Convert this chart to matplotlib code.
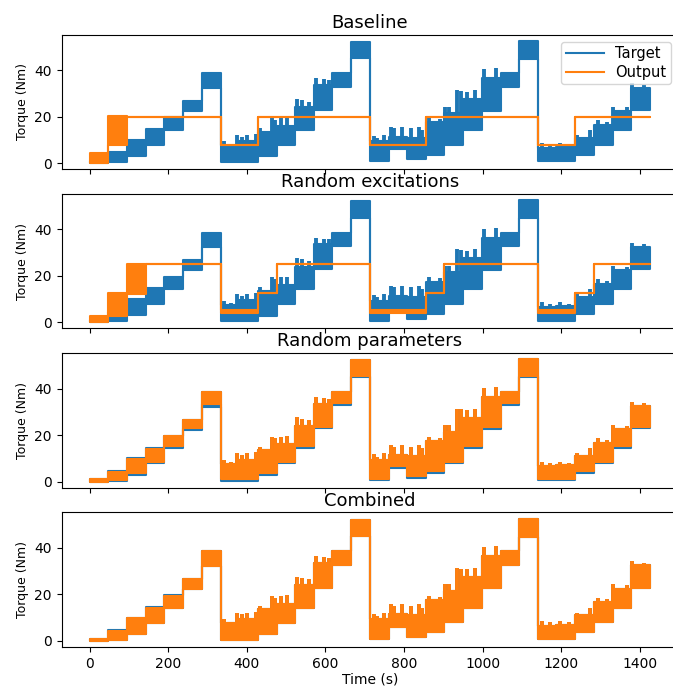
import numpy as np
import matplotlib.pyplot as plt
from matplotlib.lines import Line2D


# step boundaries of the torque reference (s)
edges = [0, 48, 95, 143, 190, 238, 285, 334, 381, 428, 476, 523, 571, 618, 666,
         713, 761, 808, 856, 903, 951, 998, 1046, 1093, 1140, 1188, 1236, 1283,
         1331, 1378, 1426]

# Target: lower / upper edge of the excitation band in each step (Nm)
target_lo = [0.0, 0.4, 3.0, 7.8, 14.3, 22.4, 32.2,
             0.4, 0.4, 2.9, 7.8, 14.3, 22.9, 32.8, 45.0,
             0.7, 6.0, 1.6, 3.6, 7.9, 14.3, 22.6, 32.8, 44.8,
             0.7, 0.7, 3.6, 7.9, 14.3, 22.9]
target_hi = [1.0, 4.6, 10.0, 14.6, 19.7, 26.7, 38.6,
             7.5, 9.5, 13.5, 16.0, 24.0, 33.5, 38.6, 52.2,
             9.3, 11.4, 11.0, 17.5, 21.5, 27.5, 36.5, 38.6, 52.6,
             6.5, 7.0, 11.0, 16.5, 22.5, 32.5]

# narrow peaks above the band
spike_t = [342, 359, 376, 389, 401, 423, 435, 465, 473, 486, 503, 528, 541, 558,
           575, 596, 609,
           723, 732, 749, 766, 774, 795, 817, 838, 846, 863, 893, 905, 914, 935,
           944, 961, 982, 1003, 1033,
           1151, 1172, 1198, 1219, 1240, 1274, 1295, 1316, 1333, 1367, 1380, 1410]
spike_v = [9.3, 8.3, 12.1, 11.4, 12.1, 12.6, 15.0, 19.3, 18.6, 19.3, 19.7, 27.6,
           27.1, 26.4, 36.4, 36.0, 35.7,
           11.7, 10.7, 12.1, 15.7, 15.0, 15.7, 15.0, 15.7, 14.3, 19.3, 18.9, 24.3,
           24.3, 31.4, 31.1, 30.7, 31.4, 40.3, 40.7,
           8.6, 7.9, 8.6, 7.9, 12.1, 14.3, 18.6, 17.8, 24.3, 24.0, 34.3, 33.6]

# Output of each model
base_lo = [0.0, 7.6, 20, 20, 20, 20, 20,
           8, 8, 20, 20, 20, 20, 20, 20,
           8, 8, 8, 20, 20, 20, 20, 20, 20,
           8, 8, 20, 20, 20, 20]
base_hi = [4.5, 20.3, 20, 20, 20, 20, 20,
           8, 8, 20, 20, 20, 20, 20, 20,
           8, 8, 8, 20, 20, 20, 20, 20, 20,
           8, 8, 20, 20, 20, 20]

exc_lo = [0.0, 2.8, 12.1, 25.2, 25.2, 25.2, 25.2,
          4.0, 4.0, 12.8, 25.2, 25.2, 25.2, 25.2, 25.2,
          4.0, 4.0, 4.0, 12.8, 25.2, 25.2, 25.2, 25.2, 25.2,
          4.0, 4.0, 12.8, 25.2, 25.2, 25.2]
exc_hi = [2.6, 12.8, 25.2, 25.2, 25.2, 25.2, 25.2,
          5.5, 5.5, 12.8, 25.2, 25.2, 25.2, 25.2, 25.2,
          5.5, 5.5, 5.5, 12.8, 25.2, 25.2, 25.2, 25.2, 25.2,
          5.5, 5.5, 12.8, 25.2, 25.2, 25.2]

param_lo = [0.0, 0.9, 3.6, 8.6, 15.2, 23.2, 33.3,
            1.0, 1.0, 3.6, 8.6, 15.2, 23.6, 33.6, 45.6,
            1.0, 6.5, 2.2, 4.4, 8.6, 15.2, 23.6, 33.6, 45.6,
            1.0, 1.0, 4.4, 8.6, 15.2, 23.6]
param_hi = [1.0, 4.3, 9.6, 14.0, 19.6, 26.7, 38.6,
            7.5, 9.5, 13.5, 16.0, 24.0, 33.5, 38.6, 52.2,
            9.3, 11.4, 11.0, 17.5, 21.5, 27.5, 36.5, 38.6, 52.6,
            6.5, 7.0, 11.0, 16.5, 22.5, 32.5]

comb_lo = [0.0, 0.4, 3.0, 7.8, 14.3, 22.4, 32.2,
           0.4, 0.4, 2.9, 7.8, 14.3, 22.9, 32.8, 45.0,
           0.7, 6.0, 1.6, 3.6, 7.9, 14.3, 22.6, 32.8, 44.8,
           0.7, 0.7, 3.6, 7.9, 14.3, 22.9]
comb_hi = [1.0, 4.3, 9.7, 14.3, 19.3, 26.4, 38.6,
           7.5, 9.5, 13.5, 16.0, 24.0, 33.5, 38.6, 52.2,
           9.3, 11.4, 11.0, 17.5, 21.5, 27.5, 36.5, 38.6, 52.6,
           6.5, 7.0, 11.0, 16.5, 22.5, 32.5]

titles = ['Baseline', 'Random excitations', 'Random parameters', 'Combined']
outputs = [(base_lo, base_hi, False), (exc_lo, exc_hi, False),
           (param_lo, param_hi, True), (comb_lo, comb_hi, True)]

blue = '#1f77b4'
orange = '#ff7f0e'


def band(ax, lo, hi, color, spikes, z):
    t = np.repeat(edges, 2)[1:-1]
    ax.fill_between(t, np.repeat(lo, 2), np.repeat(hi, 2), color=color, lw=1.5,
                    zorder=z)
    if spikes:
        idx = np.searchsorted(edges, spike_t) - 1
        ax.vlines(spike_t, np.array(lo)[idx], spike_v, color=color, lw=2.8,
                  zorder=z)


fig, axes = plt.subplots(4, 1, figsize=(6.73, 6.86), dpi=100, sharex=True)
fig.subplots_adjust(left=0.0914, right=1.0074, top=0.9494, bottom=0.0569,
                    hspace=0.184)

for ax, title, (lo, hi, sp) in zip(axes, titles, outputs):
    band(ax, target_lo, target_hi, blue, True, 2)
    band(ax, lo, hi, orange, sp, 3)
    ax.set_title(title, fontsize=13, pad=5)
    ax.set_ylabel('Torque (Nm)', fontsize=9)
    ax.set_yticks([0, 20, 40])
    ax.spines['right'].set_visible(False)

handles = [Line2D([], [], color=blue, lw=1.5), Line2D([], [], color=orange, lw=1.5)]
axes[0].legend(handles, ['Target', 'Output'], loc='upper right', fontsize=10.5,
               handlelength=2.6, borderpad=0.3, labelspacing=0.25)
axes[-1].set_xlabel('Time (s)', fontsize=10, labelpad=1)

fig.savefig('out.png', dpi=100)
